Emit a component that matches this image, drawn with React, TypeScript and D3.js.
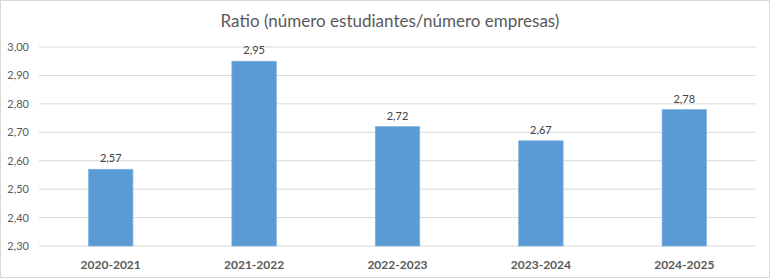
import React from 'react';
import * as d3 from 'd3';

const categories = ['2020-2021', '2021-2022', '2022-2023', '2023-2024', '2024-2025'];
const ratios = [2.57, 2.95, 2.72, 2.67, 2.78];
const yTicks = [2.3, 2.4, 2.5, 2.6, 2.7, 2.8, 2.9, 3.0];
const title = 'Ratio (número estudiantes/número empresas)';

const W = 770;
const H = 279;
const font = 'Lato, "Open Sans", sans-serif';
const fmt = (v: number) => v.toFixed(2).replace('.', ',');

export default function App() {
  const x = d3.scaleBand().domain(categories).range([39, 756]).paddingInner(0.69).paddingOuter(0.345);
  const y = d3.scaleLinear().domain([2.3, 3.0]).range([246, 47]);

  return (
    <svg width={W} height={H} style={{ position: 'absolute', left: 0, top: 0 }} fontFamily={font}>
      <rect x={0.5} y={0.5} width={W - 1} height={H - 2} fill="#fff" stroke="#d9d9d9" />
      <text x={390} y={27} textAnchor="middle" fontSize={17} fill="#595959">{title}</text>
      {yTicks.map(t => (
        <g key={t}>
          <line x1={39} x2={756} y1={y(t)} y2={y(t)} stroke="#d9d9d9" strokeWidth={1} />
          <text x={29} y={y(t) + 4} textAnchor="end" fontSize={11} fill="#595959">{fmt(t)}</text>
        </g>
      ))}
      {categories.map((c, i) => (
        <g key={c}>
          <rect x={x(c)} y={y(ratios[i])} width={x.bandwidth()} height={y(2.3) - y(ratios[i])} fill="#5b9bd5" stroke="#7fb2e0" strokeWidth={0.7} />
          <text x={(x(c) || 0) + x.bandwidth() / 2} y={y(ratios[i]) - 7} textAnchor="middle" fontSize={11} fill="#404040">{fmt(ratios[i])}</text>
          <text x={(x(c) || 0) + x.bandwidth() / 2} y={269} textAnchor="middle" fontSize={12} fontWeight="bold" fill="#595959">{c}</text>
        </g>
      ))}
    </svg>
  );
}
